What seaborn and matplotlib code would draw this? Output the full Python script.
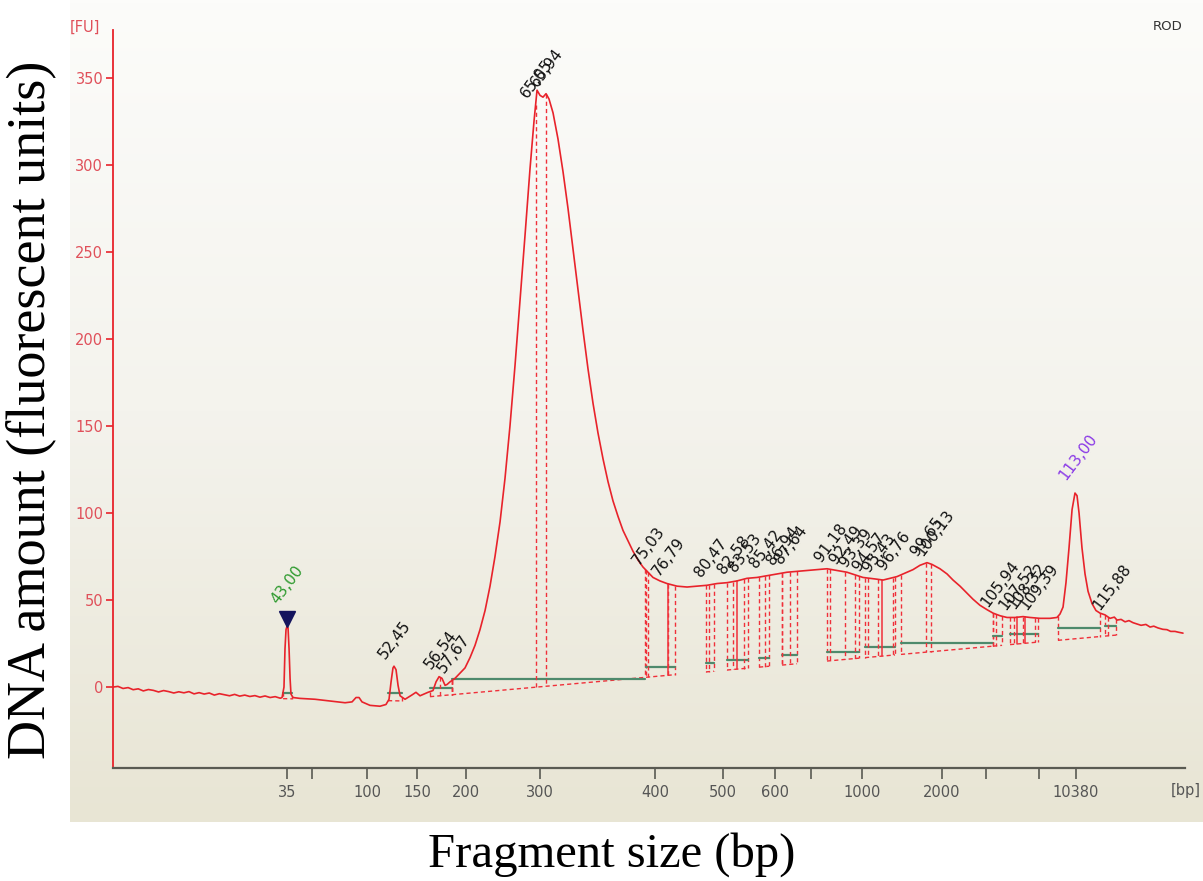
import numpy as np
import pandas as pd
import matplotlib
matplotlib.use("Agg")
import matplotlib.pyplot as plt
import seaborn as sns
from matplotlib.colors import LinearSegmentedColormap

# ---------------- data (migration time [s] vs fluorescence [FU]) ----------------
time_s = [27.56, 28.00, 28.45, 28.90, 29.35, 29.80, 30.25, 30.70, 31.15, 31.60,
          32.05, 32.50, 32.95, 33.40, 33.85, 34.30, 34.75, 35.20, 35.65, 36.10,
          36.55, 37.00, 37.45, 37.90, 38.35, 38.80, 39.25, 39.70, 40.15, 40.60,
          41.05, 41.50, 41.95, 42.40, 42.56,
          42.73, 42.82, 42.91, 43.00, 43.09, 43.18, 43.27,
          43.35, 43.53, 44.15, 45.48, 46.81, 48.15, 48.77, 49.12, 49.39, 49.65,
          50.36, 51.25, 51.78, 52.05, 52.23, 52.40, 52.49, 52.67, 52.85, 53.03,
          53.47, 54.09, 54.44, 54.80, 55.51, 55.95, 56.22, 56.49, 56.75, 57.02,
          57.20, 57.46, 57.90, 58.35, 58.79, 59.24, 59.68, 60.12, 60.57, 61.01,
          61.45, 61.90, 62.34, 62.78, 63.23, 63.67, 64.12, 64.56, 64.91, 65.18,
          65.45, 65.71, 65.98, 66.24, 66.60, 67.04, 67.49, 67.93, 68.37, 68.82,
          69.26, 69.70, 70.15, 70.59, 71.04, 71.48, 71.92, 72.37, 72.81, 73.25,
          73.70, 74.14, 74.58, 75.03, 75.47, 76.09, 76.71, 77.60, 78.49, 79.38,
          80.26, 81.15, 82.04, 82.92, 83.81, 84.70, 85.59, 86.47, 87.36, 88.25,
          89.13, 90.02, 90.91, 91.80, 92.68, 93.39, 94.10, 94.72, 95.34, 95.88,
          96.50, 97.12, 97.83, 98.54, 99.16, 99.78, 100.22, 100.93, 101.56, 102.09,
          102.71, 103.33, 103.86, 104.48, 105.10, 105.64, 106.26, 106.88, 107.59, 108.30,
          108.92, 109.81, 110.69, 111.31, 111.58, 111.85, 112.11, 112.38, 112.65, 112.91,
          113.09, 113.27, 113.53, 113.80, 114.07, 114.42, 114.77, 115.13,
          115.57, 116.02, 116.40, 116.64, 117.00, 117.35, 117.70, 118.06, 118.40, 118.77,
          119.20, 119.57, 119.90, 120.27, 120.70, 121.07, 121.40, 121.78, 122.10, 122.49]
fu = [0, 0.4, -0.8, -0.3, -1.5, -1.0, -2.2, -1.4, -1.9, -2.8,
      -2.0, -2.6, -3.4, -2.7, -3.3, -2.6, -3.9, -3.2, -4.0, -3.4,
      -4.6, -3.8, -4.4, -5.0, -4.2, -5.2, -4.6, -5.4, -4.9, -5.8,
      -5.1, -6.0, -5.5, -6.4, -6.0,
      0, 22, 33, 35, 34, 22, 5,
      -4, -6, -6.5, -7, -8, -9, -8.5, -6, -6, -8.5,
      -10.5, -11, -10, -7, 3, 11, 12, 10, 1, -5,
      -7, -4.5, -3, -5, -3, -2, 3, 6, 5, 1,
      1.5, 3, 5, 8, 11, 17, 24, 33, 44, 58,
      75, 95, 120, 150, 185, 222, 260, 298, 325, 343,
      340, 339, 341, 338, 330, 315, 296, 275, 252, 228,
      205, 183, 163, 146, 131, 118, 107, 98, 90, 84,
      78, 73, 69, 66, 63, 61, 59.5, 58, 57.5, 58,
      58.5, 59.5, 60, 61, 62.5, 63, 64, 65, 66, 66.5,
      67, 67.5, 68, 67, 66, 64.5, 63, 62.5, 62, 61.5,
      62.5, 63.5, 65.5, 67.5, 70, 71.5, 70.5, 68, 65, 61.5,
      58, 54, 50.5, 47, 44.5, 42.5, 41, 40, 40, 40.5,
      40, 39.5, 39.5, 40, 42, 46, 60, 80, 102, 111.5,
      110, 100, 80, 65, 55, 48, 44, 42.5,
      41.5, 39.5, 40.2, 38.5, 38.9, 37.5, 38.2, 37.0, 36.3, 35.5,
      36.0, 34.5, 35.0, 34.0, 33.2, 33.0, 32.0, 32.0, 31.5, 31.0]

# x-axis ladder positions (time) and their bp labels
tick_pos = [43.0, 45.22, 50.10, 54.53, 58.88, 65.45, 75.65, 81.68, 86.30, 89.49,
            94.01, 101.11, 105.02, 109.72, 113.0]
tick_lab = ["35", "", "100", "150", "200", "300", "400", "500", "600", "",
            "1000", "2000", "", "", "10380"]
y_ticks = [0, 50, 100, 150, 200, 250, 300, 350]

# peak labels (migration times)
peak_times = [43.00, 52.45, 56.54, 57.67, 65.05, 65.94, 75.03, 76.79, 80.47, 82.58,
              83.53, 85.42, 86.94, 87.64, 91.18, 92.49, 93.39, 94.57, 95.43, 96.76,
              99.65, 100.13, 105.94, 107.52, 108.32, 109.39, 113.00, 115.88]

# peak windows: start, end, level of the green peak baseline
win_start = [42.65, 51.96, 55.69, 57.64, 74.85, 80.17, 82.04, 84.88, 86.92, 90.91,
             94.28, 97.47, 105.64, 107.15, 111.40, 115.57]
win_end = [43.44, 53.20, 57.64, 74.76, 77.42, 80.88, 83.90, 85.76, 88.25, 93.75,
           96.94, 105.64, 106.43, 109.63, 115.13, 116.55]
win_level = [-3.5, -3.5, -0.5, 4.6, 11.5, 13.8, 15.5, 16.7, 18.4, 20.0,
             23.0, 25.3, 29.3, 30.4, 34.0, 35.0]
solid_t = [76.79, 82.92, 95.80, 107.77, 108.48]

# global (dashed) baseline anchors
bl_t = [41.5, 53.5, 55.7, 116.6]
bl_v = [-6.5, -8.0, -5.5, 29.9]

# ---------------- figure ----------------
W, H = 1203, 881
sns.set_theme(style="white")
plt.rcParams["font.family"] = ["DejaVu Sans"]
fig = plt.figure(figsize=(W / 100, H / 100), dpi=100)
fig.patch.set_facecolor("white")

# gradient panel background
bg = fig.add_axes([70 / W, 1 - 822 / H, 1 - 70 / W, 822 / H], zorder=0)
grad = np.linspace(0, 1, 256).reshape(-1, 1)
cmap = LinearSegmentedColormap.from_list("bg", ["#fcfcfa", "#f4f3ed", "#e8e5d4"])
bg.imshow(grad, aspect="auto", cmap=cmap, extent=[0, 1, 0, 1], origin="upper")
bg.axis("off")

ax = fig.add_axes([113 / W, 1 - 768 / H, (1185 - 113) / W, (768 - 30) / H], zorder=1)
ax.patch.set_alpha(0)

RED = "#e8232b"
DRED = "#f0303a"
GREEN = "#4e8a6c"

df = pd.DataFrame({"time": time_s, "fu": fu})
sns.lineplot(data=df, x="time", y="fu", ax=ax, color=RED, linewidth=1.2,
             estimator=None, sort=False, zorder=4)

tt = np.array(time_s)
ff = np.array(fu)


def curve(t):
    return float(np.interp(t, tt, ff))


def base(t):
    return float(np.interp(t, bl_t, bl_v))


dash_kw = dict(color=DRED, linewidth=1.0, linestyle=(0, (3, 2.2)), zorder=3)

for s, e, lv in zip(win_start, win_end, win_level):
    ax.plot([s, s], [curve(s), base(s)], **dash_kw)
    ax.plot([e, e], [curve(e), base(e)], **dash_kw)
    ax.plot([s, e], [base(s), base(e)], **dash_kw)
    ax.plot([s, e], [lv, lv], color=GREEN, linewidth=1.6, zorder=3)

for t in peak_times:
    if t in (43.00, 52.45, 113.00):
        continue
    ax.plot([t, t], [curve(t), base(t)], **dash_kw)

for t in solid_t:
    ax.plot([t, t], [curve(t), base(t)], color=DRED, linewidth=1.1, zorder=3)

# marker triangle
ax.plot([43.0], [39.0], marker="v", markersize=11, color="#14145e", zorder=5)

for t in peak_times:
    lab = f"{t:.2f}".replace(".", ",")
    col = "#111111"
    off = (-6, 5)
    if t == 43.00:
        col, off = "#2e9a2e", (-7, 20)
    elif t == 113.00:
        col, off = "#8a3ae6", (-8, 12)
    ax.annotate(lab, xy=(t, curve(t)), xytext=off, textcoords="offset pixels",
                rotation=53, rotation_mode="anchor", ha="left", va="bottom",
                fontsize=11, color=col, zorder=6)

ax.set_xlim(27.56, 122.67)
ax.set_ylim(-46.5, 377.6)
ax.set_xticks(tick_pos)
ax.set_xticklabels(tick_lab)
ax.set_yticks(y_ticks)
ax.set_yticklabels([str(v) for v in y_ticks])
ax.set_xlabel("")
ax.set_ylabel("")

for side in ("top", "right"):
    ax.spines[side].set_visible(False)
ax.spines["left"].set_color(RED)
ax.spines["left"].set_linewidth(1.3)
ax.spines["bottom"].set_color("#5a5a52")
ax.spines["bottom"].set_linewidth(1.6)

ax.tick_params(axis="x", direction="out", length=8, width=1.2, color="#5a5a52",
               labelcolor="#555555", labelsize=10.5, pad=4, bottom=True)
ax.tick_params(axis="y", direction="out", length=5, width=1.2, color=RED,
               labelcolor="#e0505a", labelsize=10.5, pad=2, left=True)

fig.text(85 / W, 1 - 27 / H, "[FU]", color="#e0505a", fontsize=10.5, ha="center", va="center")
fig.text(1168 / W, 1 - 27 / H, "ROD", color="#333333", fontsize=9.5, ha="center", va="center")
fig.text(1186 / W, 1 - 791 / H, "[bp]", color="#555555", fontsize=10.5, ha="center", va="center")

fig.text(31 / W, 1 - 410 / H, "DNA amount (fluorescent units)", rotation=90,
         family="Liberation Serif", fontsize=39, ha="center", va="center", color="black")
fig.text(612 / W, 1 - 855 / H, "Fragment size (bp)",
         family="Liberation Serif", fontsize=35, ha="center", va="center", color="black")

fig.savefig("out.png", dpi=100, facecolor="white")
